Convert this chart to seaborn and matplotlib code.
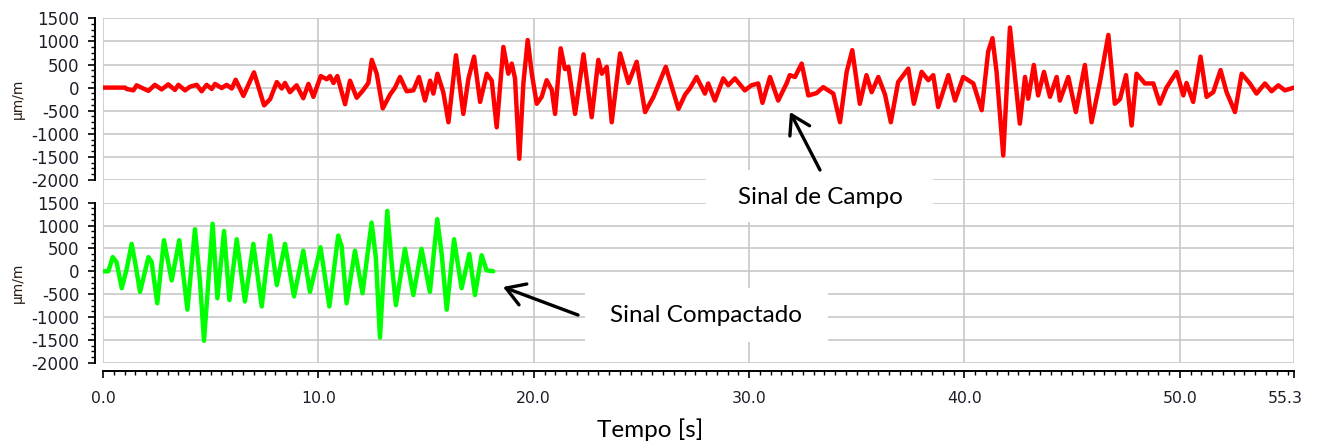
import numpy as np
import matplotlib
matplotlib.use("Agg")
import matplotlib.pyplot as plt
import seaborn as sns
from matplotlib.patches import Rectangle, FancyArrowPatch
from matplotlib.ticker import MultipleLocator, FixedLocator

# ---------------- data ----------------
t_campo = [0.00, 1.02, 1.10, 1.41, 1.56, 1.87, 2.11, 2.41, 2.72, 3.03, 3.34, 3.50, 3.81, 4.04,
           4.35, 4.58, 4.81, 5.05, 5.20, 5.51, 5.74, 5.98, 6.16, 6.52, 7.01, 7.48, 7.76, 8.07,
           8.30, 8.45, 8.68, 8.99, 9.30, 9.54, 9.77, 10.11, 10.39, 10.54, 10.70, 10.88, 11.24,
           11.47, 11.78, 12.09, 12.32, 12.48, 12.71, 12.99, 13.33, 13.56, 13.79, 14.10, 14.41,
           14.67, 14.95, 15.19, 15.34, 15.53, 15.80, 16.04, 16.39, 16.73, 16.97, 17.23, 17.51,
           17.82, 18.05, 18.28, 18.59, 18.82, 18.98, 19.13, 19.33, 19.52, 19.72, 19.91, 20.14,
           20.37, 20.60, 20.84, 20.99, 21.25, 21.45, 21.61, 21.92, 22.31, 22.69, 23.00, 23.16,
           23.39, 23.62, 24.01, 24.40, 24.78, 25.17, 25.56, 26.13, 26.72, 27.03, 27.25, 27.56,
           27.95, 28.10, 28.41, 28.80, 29.03, 29.34, 29.80, 30.11, 30.42, 30.62, 30.97, 31.35,
           31.74, 31.89, 32.13, 32.44, 32.75, 33.13, 33.44, 33.91, 34.22, 34.53, 34.79, 35.14,
           35.45, 35.69, 36.00, 36.31, 36.58, 36.92, 37.39, 37.65, 38.01, 38.32, 38.55, 38.78,
           39.25, 39.56, 39.94, 40.41, 40.80, 41.10, 41.30, 41.49, 41.80, 42.11, 42.34, 42.57,
           42.81, 42.96, 43.22, 43.42, 43.69, 43.97, 44.28, 44.43, 44.82, 45.17, 45.59, 45.90,
           46.29, 46.68, 46.98, 47.22, 47.50, 47.76, 47.99, 48.38, 48.77, 49.07, 49.38, 49.85,
           50.16, 50.31, 50.62, 50.96, 51.24, 51.55, 51.89, 52.17, 52.56, 52.87, 53.25, 53.56,
           53.95, 54.26, 54.57, 54.88, 55.30]
v_campo = [0, 0, -30, -60, 50, -20, -70, 60, -40, 70, -50, 60, -60, 20,
           60, -80, 60, -30, 80, -10, 60, -20, 170, -180, 330, -385, -250, 120,
           -20, 100, -100, 50, -230, 80, -200, 250, 180, 250, 100, 250, -360,
           150, -220, -50, 100, 600, 300, -450, -150, 0, 230, -80, -60,
           230, -280, 150, -130, 300, -100, -750, 700, -570, 200, 670, -310,
           300, 150, -860, 880, 300, 520, 200, -1540, 100, 1030, 300, -350,
           -200, 160, -50, -570, 850, 400, 450, -570, 720, -640, 600, 300,
           450, -750, 740, 100, 560, -530, -200, 450, -460, -150, -20, 230,
           -130, 90, -280, 200, 50, 200, -60, 50, 90, -330, 230, -280,
           90, 270, 230, 520, -170, -120, 10, -130, -750, 340, 810, -350,
           270, -100, 230, -150, -750, 120, 410, -350, 340, 160, 270, -420,
           270, -280, 230, 90, -490, 780, 1070, 340, -1470, 1300, 270, -780,
           230, -240, 490, -170, 340, -200, 230, -280, 230, -530, 490, -750,
           120, 1140, -350, -250, 270, -820, 300, 90, 90, -350, 0, 340,
           -170, 100, -310, 670, -200, -100, 380, -100, -530, 300, 90, -130,
           90, -80, 50, -60, 0]

t_comp = [0.00, 0.25, 0.45, 0.63, 0.87, 1.10, 1.33, 1.49, 1.72, 2.11, 2.26, 2.52, 2.83, 3.19,
          3.54, 3.92, 4.27, 4.50, 4.69, 5.09, 5.31, 5.62, 5.87, 6.21, 6.59, 6.98, 7.37, 7.76,
          8.07, 8.45, 8.87, 9.30, 9.61, 10.10, 10.51, 10.92, 11.08, 11.31, 11.70, 12.05, 12.47,
          12.67, 12.86, 13.20, 13.40, 13.60, 14.02, 14.41, 14.79, 15.18, 15.52, 15.72, 15.96,
          16.30, 16.65, 17.01, 17.27, 17.58, 17.81, 18.12]
v_comp = [0, 0, 310, 200, -370, 50, 600, 200, -450, 310, 200, -700, 680, -200,
          680, -840, 920, -200, -1520, 1040, -590, 880, -630, 700, -660, 600, -770, 780,
          -300, 600, -550, 450, -450, 525, -770, 780, 550, -700, 450, -480, 1065,
          300, -1450, 1320, 200, -740, 490, -520, 490, -450, 1140, 400, -840,
          700, -370, 380, -520, 350, 20, 0]

x_ticks = [0.0, 10.0, 20.0, 30.0, 40.0, 50.0, 55.3]
x_tick_labels = ["0.0", "10.0", "20.0", "30.0", "40.0", "50.0", "55.3"]
y_ticks = [-2000, -1500, -1000, -500, 0, 500, 1000, 1500]
y_label = "µm/m"
x_label = "Tempo [s]"
note_campo = "Sinal de Campo"
note_comp = "Sinal Compactado"

# ---------------- style ----------------
sns.set_style("white")
plt.rcParams['font.family'] = ['DejaVu Sans']
plt.rcParams['axes.unicode_minus'] = False

W, H = 1318, 443
def fx(px): return px / W
def fy(py): return 1 - py / H

GRID = '#c8c8c8'
TXT = '#1e1e2a'
NOTE_FONT = ['Lato', 'DejaVu Sans']
fig = plt.figure(figsize=(W / 100, H / 100), dpi=100)
fig.patch.set_facecolor('white')

X0, X1 = 103, 1294
TOP = (18.3, 180.0)
BOT = (202.7, 362.7)

# background axes carrying vertical grid lines through both panels
bg = fig.add_axes([fx(X0), fy(BOT[1]), fx(X1) - fx(X0), fy(TOP[0]) - fy(BOT[1])], zorder=0)
bg.set_xlim(0, 55.3)
bg.set_ylim(0, 1)
bg.xaxis.set_major_locator(FixedLocator(x_ticks))
bg.grid(axis='x', color=GRID, lw=1.2)
bg.grid(axis='y', visible=False)
bg.tick_params(length=0, labelbottom=False, labelleft=False)
for s in bg.spines.values():
    s.set_visible(False)

def make_panel(py_top, py_bot, t, v, color, show_x):
    ax = fig.add_axes([fx(X0), fy(py_bot), fx(X1) - fx(X0), fy(py_top) - fy(py_bot)], zorder=1)
    ax.patch.set_alpha(0)
    sns.lineplot(x=t, y=v, ax=ax, color=color, lw=3.2, estimator=None, sort=False,
                 solid_joinstyle='round', solid_capstyle='round')
    ax.set_xlim(0, 55.3)
    ax.set_ylim(-2000, 1500)
    ax.yaxis.set_major_locator(FixedLocator(y_ticks))
    ax.yaxis.set_minor_locator(MultipleLocator(125))
    ax.grid(axis='y', which='major', color=GRID, lw=1.2)
    ax.grid(axis='x', visible=False)
    for side in ['top', 'right']:
        ax.spines[side].set_visible(False)
    ax.spines['left'].set_position(('outward', 5.8))
    ax.spines['left'].set_color('black')
    ax.spines['left'].set_linewidth(1.4)
    ax.tick_params(axis='y', which='major', left=True, length=5, width=1.2,
                   direction='out', labelsize=12, pad=6.3, labelcolor=TXT, color='black')
    ax.tick_params(axis='y', which='minor', left=True, length=2.6, width=1.0,
                   direction='out', color='black')
    if show_x:
        ax.spines['bottom'].set_position(('outward', 6.0))
        ax.spines['bottom'].set_color('black')
        ax.spines['bottom'].set_linewidth(1.4)
        ax.xaxis.set_major_locator(FixedLocator(x_ticks))
        ax.xaxis.set_minor_locator(MultipleLocator(0.5))
        ax.set_xticklabels(x_tick_labels[:-1] + [""])
        ax.tick_params(axis='x', which='major', bottom=True, length=5, width=1.2,
                       direction='out', labelsize=11.3, pad=9.2, labelcolor=TXT, color='black')
        ax.tick_params(axis='x', which='minor', bottom=True, length=3, width=1.0,
                       direction='out', color='black')
        ax.annotate(x_tick_labels[-1], xy=(55.3, 0), xycoords=('data', 'axes fraction'),
                    xytext=(-6.5, -20.3), textcoords='offset points', ha='center', va='top',
                    fontsize=11.3, color=TXT, annotation_clip=False)
    else:
        ax.spines['bottom'].set_visible(False)
        ax.tick_params(axis='x', which='both', bottom=False, labelbottom=False)
    ax.set_xlabel("")
    ax.set_ylabel("")
    return ax

ax1 = make_panel(TOP[0], TOP[1], t_campo, v_campo, '#ff0000', False)
ax2 = make_panel(BOT[0], BOT[1], t_comp, v_comp, '#00ff00', True)

# y labels
for (pt, pb) in [TOP, BOT]:
    fig.text(fx(18), fy((pt + pb) / 2), y_label, rotation=90, ha='center', va='center',
             fontsize=10, color='#2a1a12')

# x label
fig.text(fx(650), fy(430), x_label, ha='center', va='center', fontsize=17.5,
         family=NOTE_FONT, color='black')

# annotation boxes
for (l, r, t, b) in [(706, 933, 170, 222), (585, 828, 288, 342)]:
    fig.add_artist(Rectangle((fx(l), fy(b)), fx(r) - fx(l), fy(t) - fy(b),
                             transform=fig.transFigure, facecolor='white',
                             edgecolor='none', zorder=3))

fig.text(fx(820), fy(197), note_campo, ha='center', va='center', fontsize=17.5,
         family=NOTE_FONT, color='black', zorder=4)
fig.text(fx(706), fy(315), note_comp, ha='center', va='center', fontsize=17.5,
         family=NOTE_FONT, color='black', zorder=4)

for (tail, head) in [((820, 170), (790, 112)), ((578, 315), (503, 287))]:
    fig.add_artist(FancyArrowPatch((fx(tail[0]), fy(tail[1])), (fx(head[0]), fy(head[1])),
                                   transform=fig.transFigure,
                                   arrowstyle='->,head_length=0.65,head_width=0.4',
                                   mutation_scale=20, lw=2.4, color='black',
                                   shrinkA=0, shrinkB=0, zorder=5))

fig.savefig("out.png", dpi=100, facecolor='white')
